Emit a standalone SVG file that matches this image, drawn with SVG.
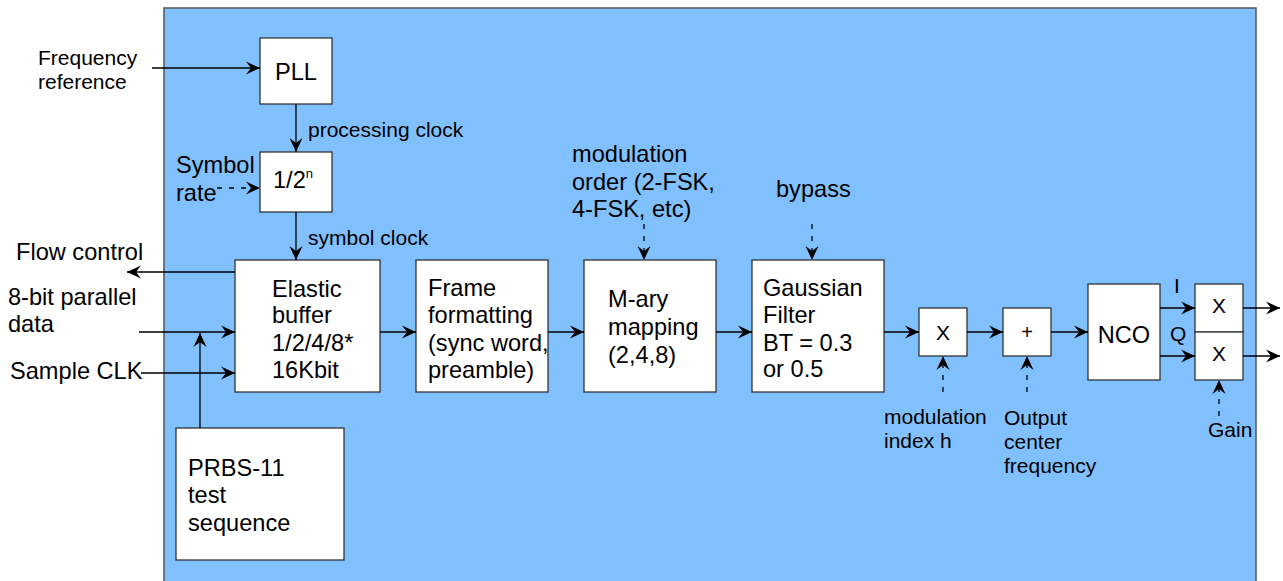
<svg xmlns="http://www.w3.org/2000/svg" width="1283" height="581" viewBox="0 0 1283 581">
  <defs>
    <marker id="arr" viewBox="0 0 14 14" refX="14" refY="7" markerWidth="14" markerHeight="14" markerUnits="userSpaceOnUse" orient="auto">
      <path d="M0,0.5 L14,7 L0,13.5 L5,7 Z" fill="#000"/>
    </marker>
    <style>
      text { font-family: "Liberation Sans", Arial, sans-serif; fill: #000; }
      .big { font-size: 23.6px; }
      .mid { font-size: 21px; }
      .box { fill: #fff; stroke: #333; stroke-width: 1.3; }
      .ln { stroke: #000; stroke-width: 1.3; fill: none; marker-end: url(#arr); }
      .dash { stroke-dasharray: 5 7; }
    </style>
  </defs>

  <!-- chip boundary -->
  <rect x="164" y="8" width="1092" height="590" fill="#80c0ff" stroke="#555" stroke-width="1.5"/>

  <!-- external signal labels -->
  <g id="labels">
    <text class="mid" x="38" y="65">Frequency</text>
    <text class="mid" x="38" y="89">reference</text>
    <text class="mid" x="308" y="137">processing clock</text>
    <text class="big" x="176" y="173">Symbol</text>
    <text class="big" x="176" y="201">rate</text>
    <text class="mid" x="308" y="245">symbol clock</text>
    <text class="big" x="16" y="260">Flow control</text>
    <text class="big" x="8" y="305">8-bit parallel</text>
    <text class="big" x="8" y="332">data</text>
    <text class="big" x="10" y="379">Sample CLK</text>
    <text class="big" x="572" y="162">modulation</text>
    <text class="big" x="572" y="190">order (2-FSK,</text>
    <text class="big" x="572" y="217">4-FSK, etc)</text>
    <text class="big" x="776" y="197">bypass</text>
    <text class="mid" x="884" y="424">modulation</text>
    <text class="mid" x="884" y="448">index h</text>
    <text class="mid" x="1004" y="425">Output</text>
    <text class="mid" x="1004" y="449">center</text>
    <text class="mid" x="1004" y="473">frequency</text>
    <text class="mid" x="1208" y="437">Gain</text>
    <text class="mid" x="1174" y="293">I</text>
    <text class="mid" x="1170" y="341">Q</text>
  </g>

  <g id="pll">
    <rect class="box" x="260" y="38" width="72" height="66"/>
    <text class="big" x="296" y="80" text-anchor="middle">PLL</text>
  </g>
  <g id="divider">
    <rect class="box" x="260" y="152" width="72" height="60"/>
    <text class="big" x="273" y="188">1/2<tspan font-size="13" dy="-10">n</tspan></text>
  </g>
  <g id="elastic-buffer">
    <rect class="box" x="235" y="260" width="145" height="132"/>
    <text class="big" x="272" y="297">Elastic</text>
    <text class="big" x="272" y="323">buffer</text>
    <text class="big" x="272" y="351">1/2/4/8*</text>
    <text class="big" x="272" y="378">16Kbit</text>
  </g>
  <g id="prbs">
    <rect class="box" x="176" y="428" width="168" height="132"/>
    <text class="big" x="188" y="476">PRBS-11</text>
    <text class="big" x="188" y="503">test</text>
    <text class="big" x="188" y="531">sequence</text>
  </g>
  <g id="framer">
    <rect class="box" x="416" y="260" width="132" height="132"/>
    <text class="big" x="428" y="296">Frame</text>
    <text class="big" x="428" y="323">formatting</text>
    <text class="big" x="428" y="351">(sync word,</text>
    <text class="big" x="428" y="378">preamble)</text>
  </g>
  <g id="mapper">
    <rect class="box" x="584" y="260" width="132" height="132"/>
    <text class="big" x="608" y="307">M-ary</text>
    <text class="big" x="608" y="335">mapping</text>
    <text class="big" x="608" y="363">(2,4,8)</text>
  </g>
  <g id="gaussian">
    <rect class="box" x="752" y="260" width="132" height="132"/>
    <text class="big" x="763" y="296">Gaussian</text>
    <text class="big" x="763" y="323">Filter</text>
    <text class="big" x="763" y="351">BT = 0.3</text>
    <text class="big" x="763" y="377">or 0.5</text>
  </g>
  <g id="multiplier">
    <rect class="box" x="919" y="308" width="48" height="48"/>
    <text class="mid" x="943" y="340" text-anchor="middle">X</text>
  </g>
  <g id="adder">
    <rect class="box" x="1003" y="308" width="48" height="48"/>
    <text x="1027" y="339" font-size="20" text-anchor="middle">+</text>
  </g>
  <g id="nco">
    <rect class="box" x="1088" y="284" width="72" height="96"/>
    <text class="big" x="1124" y="343" text-anchor="middle">NCO</text>
  </g>
  <g id="gain-i">
    <rect class="box" x="1195" y="284" width="48" height="48"/>
    <text class="mid" x="1219" y="313" text-anchor="middle">X</text>
  </g>
  <g id="gain-q">
    <rect class="box" x="1195" y="332" width="48" height="48"/>
    <text class="mid" x="1219" y="361" text-anchor="middle">X</text>
  </g>

  <g id="connectors">
    <line class="ln" x1="152" y1="68" x2="260" y2="68"/>
    <line class="ln" x1="296" y1="104" x2="296" y2="152"/>
    <line class="ln dash" x1="217" y1="188" x2="260" y2="188"/>
    <line class="ln" x1="296" y1="212" x2="296" y2="260"/>
    <line class="ln" x1="235" y1="272" x2="127" y2="272"/>
    <line class="ln" x1="139" y1="332" x2="235" y2="332"/>
    <line class="ln" x1="141" y1="373" x2="235" y2="373"/>
    <line class="ln" x1="200" y1="428" x2="200" y2="333"/>
    <line class="ln" x1="380" y1="332" x2="416" y2="332"/>
    <line class="ln" x1="548" y1="332" x2="584" y2="332"/>
    <line class="ln" x1="716" y1="332" x2="752" y2="332"/>
    <line class="ln dash" x1="644" y1="224" x2="644" y2="260"/>
    <line class="ln dash" x1="812" y1="224" x2="812" y2="260"/>
    <line class="ln" x1="884" y1="332" x2="919" y2="332"/>
    <line class="ln" x1="967" y1="332" x2="1003" y2="332"/>
    <line class="ln" x1="1051" y1="332" x2="1088" y2="332"/>
    <line class="ln dash" x1="943" y1="392" x2="943" y2="356"/>
    <line class="ln dash" x1="1027" y1="392" x2="1027" y2="356"/>
    <line class="ln" x1="1160" y1="308" x2="1195" y2="308"/>
    <line class="ln" x1="1160" y1="356" x2="1195" y2="356"/>
    <line class="ln" x1="1243" y1="308" x2="1280" y2="308"/>
    <line class="ln" x1="1243" y1="356" x2="1280" y2="356"/>
    <line class="ln dash" x1="1219" y1="416" x2="1219" y2="380"/>
  </g>
</svg>
